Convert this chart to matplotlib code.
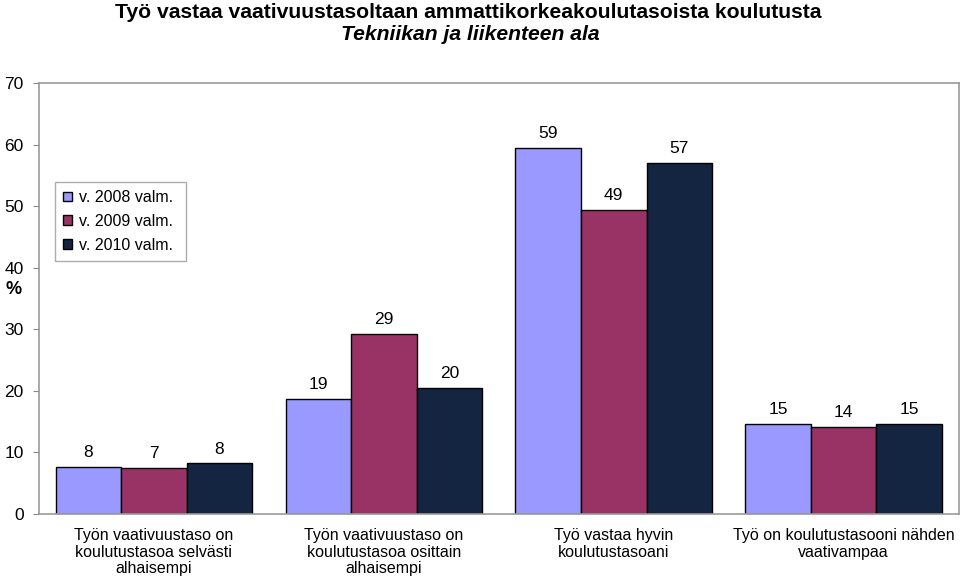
import matplotlib.pyplot as plt
import numpy as np

plt.rcParams['font.family'] = ['Liberation Sans', 'DejaVu Sans']

categories = [
    "Työn vaativuustaso on\nkoulutustasoa selvästi\nalhaisempi",
    "Työn vaativuustaso on\nkoulutustasoa osittain\nalhaisempi",
    "Työ vastaa hyvin\nkoulutustasoani",
    "Työ on koulutustasooni nähden\nvaativampaa",
]
series_names = ["v. 2008 valm.", "v. 2009 valm.", "v. 2010 valm."]
v2008 = [7.6, 18.7, 59.4, 14.6]
v2009 = [7.4, 29.2, 49.4, 14.1]
v2010 = [8.2, 20.5, 57.0, 14.6]
colors = ["#9999FF", "#993366", "#142541"]

fig = plt.figure(figsize=(9.6, 5.79), dpi=100)
ax = fig.add_axes([0.0406, 0.1123, 0.958, 0.7443])

x = np.arange(len(categories))
w = 0.285
for i, (vals, name) in enumerate(zip([v2008, v2009, v2010], series_names)):
    bars = ax.bar(x + (i - 1) * w, vals, w, color=colors[i], edgecolor="black",
                  linewidth=1.0, label=name)
    ax.bar_label(bars, labels=["%.0f" % v for v in vals], padding=5, fontsize=12.5)

ax.set_xlim(-0.5, 3.5)
ax.set_ylim(0, 70)
ax.set_yticks(range(0, 71, 10))
ax.set_xticks(x)
ax.set_xticklabels(categories, fontsize=11.5, linespacing=1.15)
ax.tick_params(axis="x", length=0, pad=10)
ax.tick_params(axis="y", labelsize=12.5, length=4, color="#888888", pad=7)
for s in ax.spines.values():
    s.set_color("#999999")
    s.set_linewidth(1.2)

fig.text(0.006, 1 - 290 / 579, "%", fontsize=13, fontweight="bold", va="center", ha="left")

fig.text(468 / 960, 1 - 12 / 579, "Työ vastaa vaativuustasoltaan ammattikorkeakoulutasoista koulutusta",
         ha="center", va="center", fontsize=15.2, fontweight="bold")
fig.text(470 / 960, 1 - 34 / 579, "Tekniikan ja liikenteen ala",
         ha="center", va="center", fontsize=15.2, fontweight="bold", style="italic")

leg = ax.legend(loc="upper left", bbox_to_anchor=(0.0174, 0.77), borderaxespad=0,
                fontsize=11.5, frameon=True, fancybox=False, handlelength=0.55,
                handleheight=0.55, handletextpad=0.45, labelspacing=0.55, borderpad=0.5)
leg.get_frame().set_edgecolor("#999999")
leg.get_frame().set_linewidth(1.0)
for t in leg.get_texts():
    t.set_text(t.get_text() + " ")

fig.savefig("out.png", dpi=100)
